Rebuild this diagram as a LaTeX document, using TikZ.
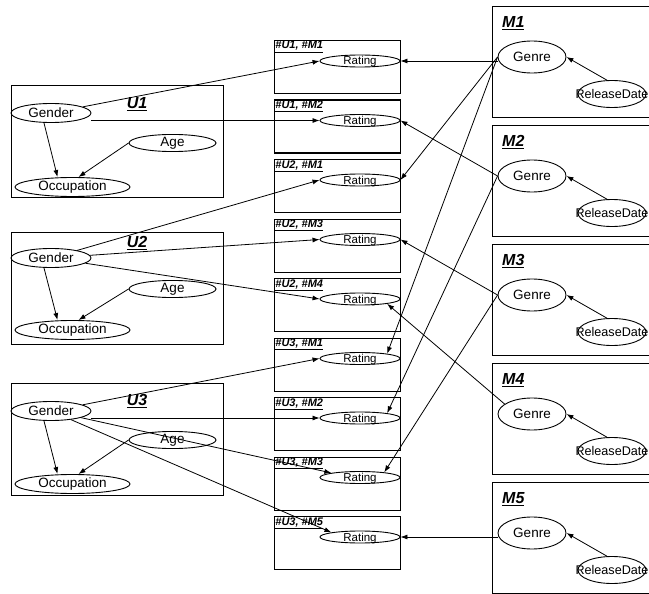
\documentclass[tikz,border=0pt]{standalone}
\usepackage{fontspec}
\setmainfont{Liberation Sans}
\usepackage{tikz}
\usetikzlibrary{arrows.meta,shapes.geometric}

\begin{document}
\begin{tikzpicture}[x=1pt,y=-1pt,every node/.style={inner sep=0pt},
frame/.style={draw,line width=1.4pt,anchor=north west},
ubox/.style={frame,minimum width=212pt,minimum height=112pt},
pbox/.style={frame,minimum width=126pt,minimum height=53pt},
mbox/.style={frame,minimum width=170pt,minimum height=111pt},
attr/.style={draw,ellipse,line width=0.9pt,font=\fontsize{13.5}{15}\selectfont},
gender/.style={attr,minimum width=80pt,minimum height=19pt},
age/.style={attr,minimum width=87pt,minimum height=17pt},
occup/.style={attr,minimum width=115pt,minimum height=19pt},
genre/.style={attr,minimum width=68pt,minimum height=32pt},
rdate/.style={attr,minimum width=68pt,minimum height=27pt,font=\fontsize{12.6}{14}\selectfont},
rating/.style={attr,minimum width=80pt,minimum height=12pt,font=\fontsize{11.5}{13}\selectfont},
ulabel/.style={font=\fontsize{16}{18}\selectfont\bfseries\itshape},
mlabel/.style={ulabel,anchor=west},
plabel/.style={anchor=north west,inner sep=1.2pt,font=\fontsize{11}{12}\selectfont\bfseries\itshape},
arr/.style={-{Latex[length=7pt,width=5pt]},line width=0.8pt}]
\useasboundingbox (0,0) rectangle (649,594);
\clip (0,0) rectangle (649,594);
\node[ubox] (u1) at (11,85) {};
\node[ulabel] (lu1) at (137,104) {\underline{U1}};
\node[gender] (gu1) at (51,113) {Gender};
\node[age] (ag1) at (172.5,143) {Age};
\node[occup] (oc1) at (72.5,187) {Occupation};
\node[ubox] (u2) at (11,232) {};
\node[ulabel] (lu2) at (137,243) {\underline{U2}};
\node[gender] (gu2) at (51,258) {Gender};
\node[age] (ag2) at (172.5,289) {Age};
\node[occup] (oc2) at (72.5,330) {Occupation};
\node[ubox] (u3) at (11,383) {};
\node[ulabel] (lu3) at (137,401) {\underline{U3}};
\node[gender] (gu3) at (51,411) {Gender};
\node[age] (ag3) at (172.5,440) {Age};
\node[occup] (oc3) at (72.5,484) {Occupation};
\draw[arr] ([xshift=-7pt]gu1.south) -- ([xshift=-15pt]oc1.north);
\draw[arr] (ag1.west) -- ([xshift=6pt]oc1.north);
\draw[arr] ([xshift=-7pt]gu2.south) -- ([xshift=-15pt]oc2.north);
\draw[arr] (ag2.west) -- ([xshift=6pt]oc2.north);
\draw[arr] ([xshift=-7pt]gu3.south) -- ([xshift=-15pt]oc3.north);
\draw[arr] (ag3.west) -- ([xshift=6pt]oc3.north);
\node[pbox] (p11) at (274,40) {};
\node[plabel] (l11) at (p11.north west) {\underline{\#U1, \#M1}};
\node[rating] (r11) at (360,61) {\smash{\raisebox{-4pt}{Rating}}};
\node[pbox] (p12) at (274,99.5) {};
\node[plabel] (l12) at (p12.north west) {\underline{\#U1, \#M2}};
\node[rating] (r12) at (360,120.5) {\smash{\raisebox{-4pt}{Rating}}};
\node[pbox] (p21) at (274,159) {};
\node[plabel] (l21) at (p21.north west) {\underline{\#U2, \#M1}};
\node[rating] (r21) at (360,180) {\smash{\raisebox{-4pt}{Rating}}};
\node[pbox] (p23) at (274,218.5) {};
\node[plabel] (l23) at (p23.north west) {\underline{\#U2, \#M3}};
\node[rating] (r23) at (360,239.5) {\smash{\raisebox{-4pt}{Rating}}};
\node[pbox] (p24) at (274,278) {};
\node[plabel] (l24) at (p24.north west) {\underline{\#U2, \#M4}};
\node[rating] (r24) at (360,299) {\smash{\raisebox{-4pt}{Rating}}};
\node[pbox] (p31) at (274,337.5) {};
\node[plabel] (l31) at (p31.north west) {\underline{\#U3, \#M1}};
\node[rating] (r31) at (360,358.5) {\smash{\raisebox{-4pt}{Rating}}};
\node[pbox] (p32) at (274,397) {};
\node[plabel] (l32) at (p32.north west) {\underline{\#U3, \#M2}};
\node[rating] (r32) at (360,418) {\smash{\raisebox{-4pt}{Rating}}};
\node[pbox] (p33) at (274,456.5) {};
\node[plabel] (l33) at (p33.north west) {\underline{\#U3, \#M3}};
\node[rating] (r33) at (360,477.5) {\smash{\raisebox{-4pt}{Rating}}};
\node[pbox] (p35) at (274,516) {};
\node[plabel] (l35) at (p35.north west) {\underline{\#U3, \#M5}};
\node[rating] (r35) at (360,537) {\smash{\raisebox{-4pt}{Rating}}};
\node[mbox] (m1) at (492,6) {};
\node[mlabel] (lm1) at (502,23) {\underline{M1}};
\node[genre] (gm1) at (532,57) {Genre};
\node[rdate] (rd1) at (612,94) {\makebox[0pt]{ReleaseDate}};
\node[mbox] (m2) at (492,125) {};
\node[mlabel] (lm2) at (502,142) {\underline{M2}};
\node[genre] (gm2) at (532,176) {Genre};
\node[rdate] (rd2) at (612,213) {\makebox[0pt]{ReleaseDate}};
\node[mbox] (m3) at (492,244) {};
\node[mlabel] (lm3) at (502,261) {\underline{M3}};
\node[genre] (gm3) at (532,295) {Genre};
\node[rdate] (rd3) at (612,332) {\makebox[0pt]{ReleaseDate}};
\node[mbox] (m4) at (492,363) {};
\node[mlabel] (lm4) at (502,380) {\underline{M4}};
\node[genre] (gm4) at (532,414) {Genre};
\node[rdate] (rd4) at (612,451) {\makebox[0pt]{ReleaseDate}};
\node[mbox] (m5) at (492,482) {};
\node[mlabel] (lm5) at (502,499) {\underline{M5}};
\node[genre] (gm5) at (532,533) {Genre};
\node[rdate] (rd5) at (612,570) {\makebox[0pt]{ReleaseDate}};
\draw[arr] (rd1.110) -- (gm1.east);
\draw[arr] (rd2.110) -- (gm2.east);
\draw[arr] (rd3.110) -- (gm3.east);
\draw[arr] (rd4.110) -- (gm4.east);
\draw[arr] (rd5.110) -- (gm5.east);
\draw[arr] (gu1) -- (r11.west);
\draw[arr] (gu1.east |- r12.west) -- (r12.west);
\draw[arr] (gu2) -- (r21.west);
\draw[arr] (gu2) -- (r23.west);
\draw[arr] (gu2) -- (r24.west);
\draw[arr] (gu3) -- (r31.west);
\draw[arr] (gu3.east |- r32.west) -- (r32.west);
\draw[arr] (gu3) -- (r33.north west);
\draw[arr] (gu3) -- (r35.north west);
\draw[arr] (r11.east -| gm1.west) -- (r11.east);
\draw[arr] (gm1.west) -- (r21.east);
\draw[arr] (gm1.west) -- (r31.10);
\draw[arr] (gm2.west) -- (r12.east);
\draw[arr] (gm2.west) -- (r32.10);
\draw[arr] (gm3.west) -- (r23.east);
\draw[arr] (gm3.west) -- (r33.12);
\draw[arr] (gm4.160) -- (r24.-10);
\draw[arr] (r35.east -| gm5.west) -- (r35.east);
\end{tikzpicture}
\end{document}
